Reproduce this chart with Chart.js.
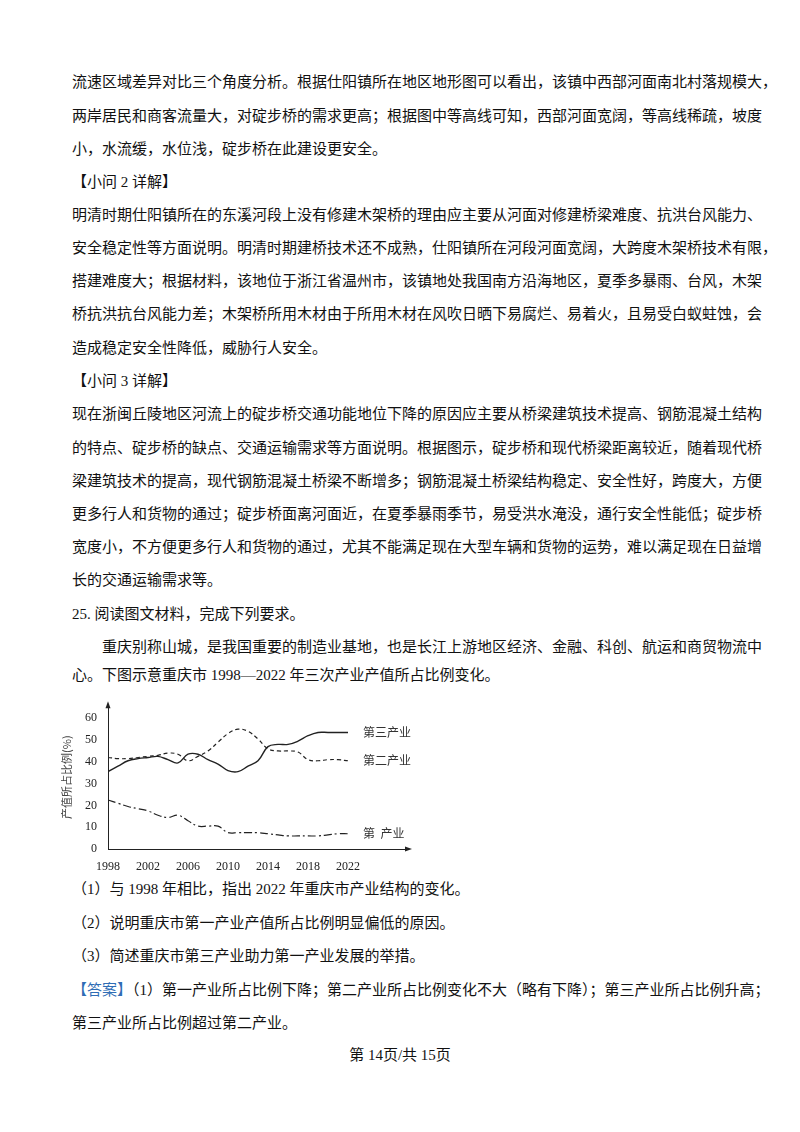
<!DOCTYPE html>
<html><head><meta charset="utf-8">
<script src="https://cdn.jsdelivr.net/npm/chart.js@4"></script>
<style>
body{margin:0;width:800px;height:1132px;background:#fff;position:relative;font-family:"Liberation Serif","Noto Sans CJK SC",serif;color:#111;}
.l{position:absolute;left:72px;width:673px;font-size:15px;line-height:20px;white-space:nowrap;}
.j{text-align:justify;text-align-last:justify;}
.b{color:#2f6db5;}
#wrap{position:absolute;left:60px;top:695px;width:360px;height:180px;}
</style></head><body>
<div id="text"></div>
<div id="wrap"><canvas id="c"></canvas></div>
<script>
// page text: [centerY, text, justify, indent]
const lines = [
  [82,'流速区域差异对比三个角度分析。根据仕阳镇所在地区地形图可以看出，该镇中西部河面南北村落规模大，',1],
  [116,'两岸居民和商客流量大，对碇步桥的需求更高；根据图中等高线可知，西部河面宽阔，等高线稀疏，坡度',1],
  [149,'小，水流缓，水位浅，碇步桥在此建设更安全。',0],
  [182,'【小问 2 详解】',0],
  [215,'明清时期仕阳镇所在的东溪河段上没有修建木架桥的理由应主要从河面对修建桥梁难度、抗洪台风能力、',1],
  [248,'安全稳定性等方面说明。明清时期建桥技术还不成熟，仕阳镇所在河段河面宽阔，大跨度木架桥技术有限，',1],
  [281,'搭建难度大；根据材料，该地位于浙江省温州市，该镇地处我国南方沿海地区，夏季多暴雨、台风，木架',1],
  [314,'桥抗洪抗台风能力差；木架桥所用木材由于所用木材在风吹日晒下易腐烂、易着火，且易受白蚁蛀蚀，会',1],
  [348,'造成稳定安全性降低，威胁行人安全。',0],
  [381,'【小问 3 详解】',0],
  [414,'现在浙闽丘陵地区河流上的碇步桥交通功能地位下降的原因应主要从桥梁建筑技术提高、钢筋混凝土结构',1],
  [448,'的特点、碇步桥的缺点、交通运输需求等方面说明。根据图示，碇步桥和现代桥梁距离较近，随着现代桥',1],
  [481,'梁建筑技术的提高，现代钢筋混凝土桥梁不断增多；钢筋混凝土桥梁结构稳定、安全性好，跨度大，方便',1],
  [514,'更多行人和货物的通过；碇步桥面离河面近，在夏季暴雨季节，易受洪水淹没，通行安全性能低；碇步桥',1],
  [547,'宽度小，不方便更多行人和货物的通过，尤其不能满足现在大型车辆和货物的运势，难以满足现在日益增',1],
  [580,'长的交通运输需求等。',0],
  [614,'25. 阅读图文材料，完成下列要求。',0],
  [647,'重庆别称山城，是我国重要的制造业基地，也是长江上游地区经济、金融、科创、航运和商贸物流中',1,30],
  [675,'心。下图示意重庆市 1998—2022 年三次产业产值所占比例变化。',0],
  [889,'（1）与 1998 年相比，指出 2022 年重庆市产业结构的变化。',0],
  [923,'（2）说明重庆市第一产业产值所占比例明显偏低的原因。',0],
  [956,'（3）简述重庆市第三产业助力第一产业发展的举措。',0],
  [990,'<span class="b">【答案】</span>（1）第一产业所占比例下降；第二产业所占比例变化不大（略有下降）；第三产业所占比例升高；',1],
  [1023,'第三产业所占比例超过第二产业。',0]
];
const t = document.getElementById('text');
lines.forEach(([y, s, j, ind]) => {
  const d = document.createElement('div');
  d.className = 'l' + (j ? ' j' : '');
  d.style.top = (y - 10) + 'px';
  if (ind) { d.style.left = (72 + ind) + 'px'; d.style.width = (673 - ind) + 'px'; }
  d.innerHTML = s;
  t.appendChild(d);
});
const f = document.createElement('div');
f.className = 'l'; f.style.top = '1045px'; f.style.textAlign = 'center'; f.style.left = '0'; f.style.width = '800px';
f.textContent = '第 14页/共 15页';
t.appendChild(f);

// chart data
const years = [1998,1999,2000,2001,2002,2003,2004,2005,2006,2007,2008,2009,2010,2011,2012,2013,2014,2015,2016,2017,2018,2019,2020,2021,2022];
const tertiary = [35.5,38,40.5,41.5,42,42.5,41,39.5,43.5,43.5,41,39,36,35.5,38,40.5,47,48,48,49.5,52,53.5,53.5,53.5,53.5];
const secondary = [42,41.5,41.5,42,42.5,43,44,43.5,40.5,42.5,45,49,53,55,54,50.5,46,45,45,44.5,41,40.5,41,41,40.5];
const primary = [22.5,21,19.5,18.5,17.5,15.5,14.5,15.5,13,10.5,10.5,10.5,7.5,7.5,7.5,7.5,7,6.5,6,6,6,6,6.5,7,7];
const seriesNames = ['第三产业','第二产业','第  产业'];
const xTicks = [1998, 2002, 2006, 2010, 2014, 2018, 2022];
const yTicks = [0, 10, 20, 30, 40, 50, 60];

const mk = (arr, dash, w) => ({
  data: years.map((y, i) => ({x: y, y: arr[i]})),
  borderColor: '#222', borderWidth: w, borderDash: dash,
  pointRadius: 0, tension: 0.4, fill: false
});

const endLabels = {
  id: 'endLabels',
  afterDraw(chart) {
    const {ctx, scales: {x, y}} = chart;
    ctx.save();
    ctx.fillStyle = '#333';
    ctx.font = '12px "Noto Sans CJK SC"';
    ctx.textBaseline = 'middle';
    chart.data.datasets.forEach((ds, i) => {
      const last = ds.data[ds.data.length - 1];
      ctx.fillText(seriesNames[i], x.getPixelForValue(2023.5), y.getPixelForValue(last.y));
    });
    ctx.font = '13px "Noto Sans CJK SC"';
    ctx.fillText('年', x.getPixelForValue(2022) + 15, x.bottom + 13);
    ctx.fillStyle = '#222';
    ctx.beginPath();
    ctx.moveTo(x.right + 4, y.bottom); ctx.lineTo(x.right - 3, y.bottom - 2.5); ctx.lineTo(x.right - 3, y.bottom + 2.5); ctx.fill();
    ctx.beginPath();
    ctx.moveTo(x.left, y.top - 4); ctx.lineTo(x.left - 2.5, y.top + 3); ctx.lineTo(x.left + 2.5, y.top + 3); ctx.fill();
    ctx.restore();
  }
};

new Chart(document.getElementById('c'), {
  type: 'line',
  data: { datasets: [mk(tertiary, [], 1.4), mk(secondary, [4, 3], 1.2), mk(primary, [8, 3, 2, 3], 1.2)] },
  options: {
    responsive: true, maintainAspectRatio: false, animation: false,
    layout: { padding: { top: 6, right: 12 } },
    plugins: { legend: { display: false }, tooltip: { enabled: false } },
    scales: {
      x: {
        type: 'linear', min: 1998, max: 2028,
        afterFit(s) { s.height = 26; },
        afterBuildTicks(s) { s.ticks = xTicks.map(v => ({value: v})); },
        grid: { display: false },
        border: { color: '#222' },
        ticks: { autoSkip: false, color: '#222', font: { family: 'Liberation Serif', size: 12 }, maxRotation: 0,
          callback: v => String(v) }
      },
      y: {
        min: 0, max: 66,
        afterFit(s) { s.width = 48; },
        afterBuildTicks(s) { s.ticks = yTicks.map(v => ({value: v})); },
        grid: { display: false },
        border: { color: '#222' },
        title: { display: true, text: '产值所占比例(%)', color: '#444', padding: 0, font: { family: 'Noto Sans CJK SC', size: 11 } },
        ticks: { autoSkip: false, color: '#222', font: { family: 'Liberation Serif', size: 12 },
          callback: v => String(v) }
      }
    }
  },
  plugins: [endLabels]
});
</script>
</body></html>
